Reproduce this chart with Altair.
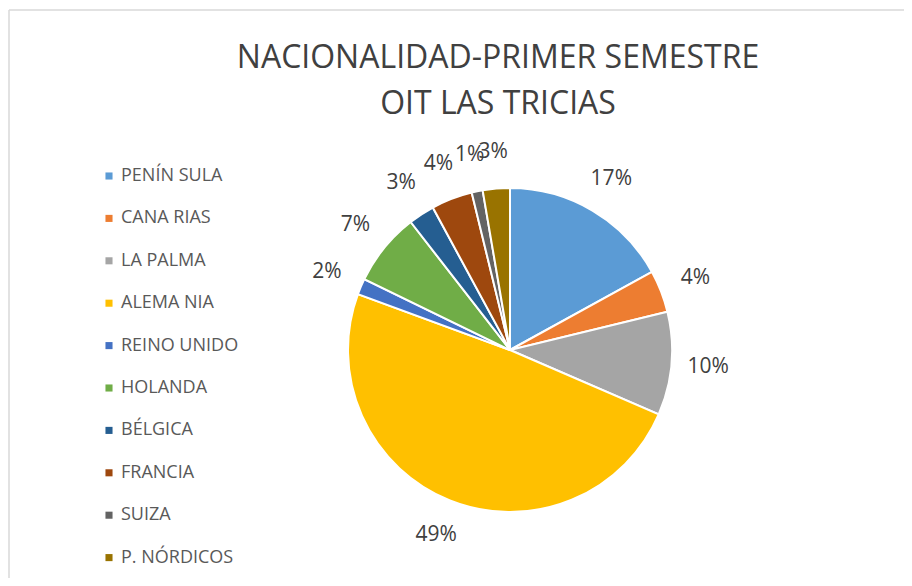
import altair as alt
import pandas as pd

categories = ["PENÍN SULA", "CANA RIAS", "LA PALMA", "ALEMA NIA", "REINO UNIDO",
              "HOLANDA", "BÉLGICA", "FRANCIA", "SUIZA", "P. NÓRDICOS"]
shares = [17.0, 4.2, 10.3, 49.1, 1.6, 7.3, 2.6, 4.1, 1.1, 2.7]
colors = ["#5B9BD5", "#ED7D31", "#A5A5A5", "#FFC000", "#4472C4",
          "#70AD47", "#255E91", "#9E480E", "#636363", "#997300"]
title_lines = ["NACIONALIDAD-PRIMER SEMESTRE", "OIT LAS TRICIAS"]

df = pd.DataFrame({"pais": categories, "share": shares, "idx": list(range(len(categories)))})

W, H = 896, 570
CX, CY = 502, 342
R = 162
FONT = "Open Sans"

base = alt.Chart(df).transform_joinaggregate(
    total="sum(share)"
).transform_calculate(
    pct="datum.share / datum.total"
).encode(
    theta=alt.Theta("share:Q", stack=True),
    order=alt.Order("idx:Q", sort="ascending"),
)

pie = base.mark_arc(outerRadius=R, stroke="white", strokeWidth=2).encode(
    x=alt.value(CX), y=alt.value(CY),
    color=alt.Color(
        "pais:N", sort=categories,
        scale=alt.Scale(domain=categories, range=colors),
        legend=alt.Legend(
            orient="none", legendX=92, legendY=159, title=None,
            symbolType="square", symbolSize=50, symbolStrokeWidth=0,
            labelFontSize=18, labelFont=FONT, labelColor="#595959",
            rowPadding=24.4, labelOffset=3, padding=0,
        ),
    ),
)

labels = base.mark_text(radius=199, fontSize=21, font=FONT, color="#404040").encode(
    x=alt.value(CX), y=alt.value(CY),
    text=alt.Text("pct:Q", format=".0%"),
)

frame_df = pd.DataFrame({"k": [0]})
top_rule = alt.Chart(frame_df).mark_rule(color="#D9D9D9", strokeWidth=1.5).encode(
    x=alt.value(1), x2=alt.value(W), y=alt.value(2)
)
left_rule = alt.Chart(frame_df).mark_rule(color="#D9D9D9", strokeWidth=1.5).encode(
    x=alt.value(1), y=alt.value(2), y2=alt.value(H)
)

chart = alt.layer(top_rule, left_rule, pie, labels).properties(
    width=W, height=H,
    autosize=alt.AutoSizeParams(type="none"),
    padding=0,
    title=alt.TitleParams(
        text=title_lines, fontSize=32, font=FONT, color="#404040",
        fontWeight="normal", anchor="middle", lineHeight=46, dx=42, dy=117,
    ),
).configure_view(stroke=None)

chart.save("out.html", embed_options={"renderer": "svg", "actions": False})
